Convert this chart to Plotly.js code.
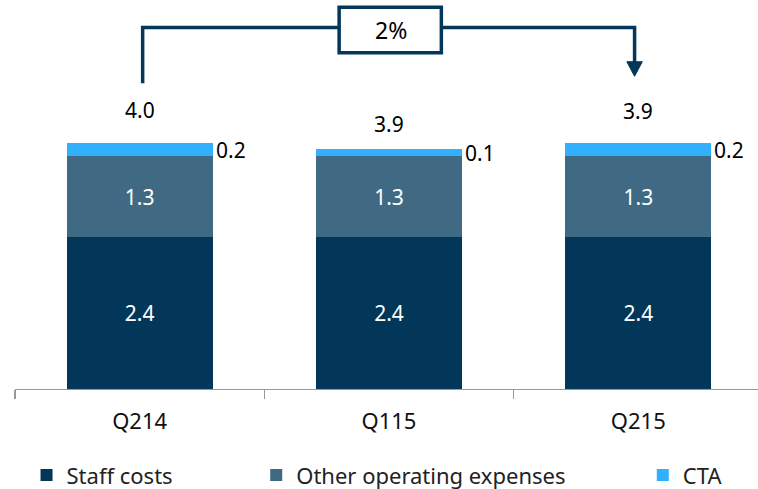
<!DOCTYPE html>
<html><head><meta charset="utf-8">
<script src="https://cdn.plot.ly/plotly-3.0.1.min.js"></script>
<style>html,body{margin:0;padding:0;background:#fff}#chart{width:758px;height:489px}</style>
</head><body><div id="chart"></div>
<script>
const categories = ["Q214", "Q115", "Q215"];
const staffCosts = [2.4, 2.4, 2.4];
const otherOpex = [1.28, 1.28, 1.28];
const cta = [0.205, 0.11, 0.205];
const staffLabels = ["2.4", "2.4", "2.4"];
const otherLabels = ["1.3", "1.3", "1.3"];
const ctaLabels = ["0.2", "0.1", "0.2"];
const totalLabels = ["4.0", "3.9", "3.9"];
const growthLabel = "2%";

const NAVY = "#03375a", MID = "#406a84", LIGHT = "#31b0fd";
const FONT = "Noto Sans, Open Sans, sans-serif";

const common = {type: "bar", x: categories, width: 0.585, marker: {line: {width: 0}},
  textposition: "inside", insidetextanchor: "middle", constraintext: "none",
  textfont: {color: "#fff", size: 21, family: FONT}, hoverinfo: "skip"};

const traces = [
  Object.assign({}, common, {name: "Staff costs", y: staffCosts, text: staffLabels, texttemplate: "%{text}", marker: {color: NAVY}, legend: "legend"}),
  Object.assign({}, common, {name: "Other operating expenses", y: otherOpex, text: otherLabels, texttemplate: "%{text}", marker: {color: MID}, legend: "legend2"}),
  Object.assign({}, common, {name: "CTA", y: cta, textposition: "none", marker: {color: LIGHT}, legend: "legend3"})
];

const annotations = [];
const totalShift = [33, 25, 32];
categories.forEach((c, i) => {
  const top = staffCosts[i] + otherOpex[i] + cta[i];
  annotations.push({x: i, y: top, xref: "x", yref: "y", text: totalLabels[i], showarrow: false,
    yanchor: "middle", yshift: totalShift[i], font: {size: 21, color: "#000", family: FONT}});
  annotations.push({x: i + 0.2925, y: staffCosts[i] + otherOpex[i] + cta[i] / 2, xref: "x", yref: "y",
    text: ctaLabels[i], showarrow: false, xanchor: "left", xshift: 1, yshift: 0,
    font: {size: 21, color: "#000", family: FONT}});
});
annotations.push({x: 1.01, y: 5.67, xref: "x", yref: "y", text: growthLabel, showarrow: false,
  font: {size: 23, color: "#000", family: FONT}});

const lc = {color: NAVY, width: 3.5};
const shapes = [
  {type: "path", xref: "x", yref: "y", path: "M 0.012 4.83 L 0.012 5.71 L 1.985 5.71 L 1.985 5.12", line: lc, fillcolor: "rgba(0,0,0,0)"},
  {type: "path", xref: "x", yref: "y", path: "M 1.954 5.17 L 2.016 5.17 L 1.985 4.94 Z", line: {color: NAVY, width: 1}, fillcolor: NAVY},
  {type: "rect", xref: "x", yref: "y", x0: 0.8, x1: 1.21, y0: 5.31, y1: 6.03, line: lc, fillcolor: "#fff"}
];

const legBase = {orientation: "h", xref: "container", yref: "container", yanchor: "middle", y: 0.028,
  font: {size: 22, color: "#222", family: FONT}, bgcolor: "rgba(0,0,0,0)", itemclick: false, itemdoubleclick: false};

const layout = {
  width: 758, height: 489, margin: {l: 15, r: 0, t: 0, b: 100},
  paper_bgcolor: "#fff", plot_bgcolor: "#fff", barmode: "stack", bargap: 0.415,
  showlegend: true,
  legend: Object.assign({}, legBase, {x: 0.035, xanchor: "left"}),
  legend2: Object.assign({}, legBase, {x: 0.338, xanchor: "left"}),
  legend3: Object.assign({}, legBase, {x: 0.848, xanchor: "left"}),
  xaxis: {type: "category", range: [-0.5, 2.48], showline: true, linecolor: "#999", linewidth: 1.3,
    ticks: "outside", tickson: "boundaries", ticklen: 9, tickcolor: "#999", tickwidth: 1.3,
    showgrid: false, zeroline: false, ticklabelstandoff: 12, tickfont: {size: 22, color: "#111", family: FONT}, fixedrange: true},
  yaxis: {range: [0, 6.145], visible: false, showgrid: false, zeroline: false, fixedrange: true},
  annotations: annotations, shapes: shapes, font: {family: FONT}
};
Plotly.newPlot("chart", traces, layout, {displayModeBar: false, staticPlot: true});
</script></body></html>
